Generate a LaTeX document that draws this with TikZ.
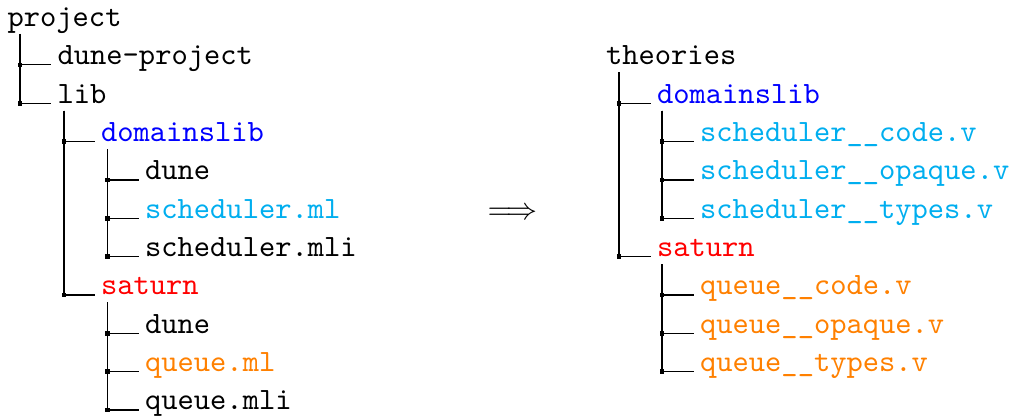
\documentclass[tikz,border=0pt]{standalone}
\usetikzlibrary{calc}
\definecolor{dirblue}{RGB}{0,0,255}
\definecolor{mlcyan}{RGB}{0,174,239}
\definecolor{mlorange}{RGB}{255,128,0}
\begin{document}
\begin{tikzpicture}[x=0.3226pt,y=-0.3226pt,
    entry/.style={anchor=base west,inner sep=0pt,font=\ttfamily},
    branch/.style={line width=0.4pt},
    junction/.style={fill,inner sep=0pt,minimum size=1.5pt}]
  \useasboundingbox (0,0) rectangle (1014,419);
  %left tree
  \node[entry] (project) at (7,26.5) {project};
  \node[entry] (dproj) at (57,64.85) {dune-project};
  \node[entry] (lib) at (57,103.2) {lib};
  \node[entry,dirblue] (domlib) at (100.5,141.55) {domainslib};
  \node[entry] (ddune) at (144.5,179.9) {dune};
  \node[entry,mlcyan] (dsched) at (144.5,218.25) {scheduler.ml};
  \node[entry] (dschedi) at (144.5,256.6) {scheduler.mli};
  \node[entry,red] (sat) at (100.5,294.95) {saturn};
  \node[entry] (sdune) at (144.5,333.3) {dune};
  \node[entry,mlorange] (squeue) at (144.5,371.65) {queue.ml};
  \node[entry] (squeuei) at (144.5,410) {queue.mli};
  %arrow
  \node[anchor=base west,inner sep=0pt] (arrow) at (487,219.4) {$\Longrightarrow$};
  %right tree
  \node[entry] (theories) at (605.5,64.85) {theories};
  \node[entry,dirblue] (tdom) at (656.5,103.2) {domainslib};
  \node[entry,mlcyan] (tcode) at (699.5,141.55) {scheduler\_\_code.v};
  \node[entry,mlcyan] (topaque) at (699.5,179.9) {scheduler\_\_opaque.v};
  \node[entry,mlcyan] (ttypes) at (699.5,218.25) {scheduler\_\_types.v};
  \node[entry,red] (tsat) at (656.5,256.6) {saturn};
  \node[entry,mlorange] (qcode) at (699.5,294.95) {queue\_\_code.v};
  \node[entry,mlorange] (qopaque) at (699.5,333.3) {queue\_\_opaque.v};
  \node[entry,mlorange] (qtypes) at (699.5,371.65) {queue\_\_types.v};
  %branches
  \foreach \p/\c/\dx in {project/dproj/13, project/lib/13, lib/domlib/7,
      lib/sat/7, domlib/ddune/7, domlib/dsched/7, domlib/dschedi/7,
      sat/sdune/7, sat/squeue/7, sat/squeuei/7,
      theories/tdom/13.5, theories/tsat/13.5, tdom/tcode/5.5, tdom/topaque/5.5,
      tdom/ttypes/5.5, tsat/qcode/5.5, tsat/qopaque/5.5, tsat/qtypes/5.5}
    \draw[branch] ($(\p.base west)+(\dx,7.5)$) |- node[pos=0.5,junction] (j\c) {}
      ($(\c.base west)+(-5.5,0)$);
\end{tikzpicture}
\end{document}
